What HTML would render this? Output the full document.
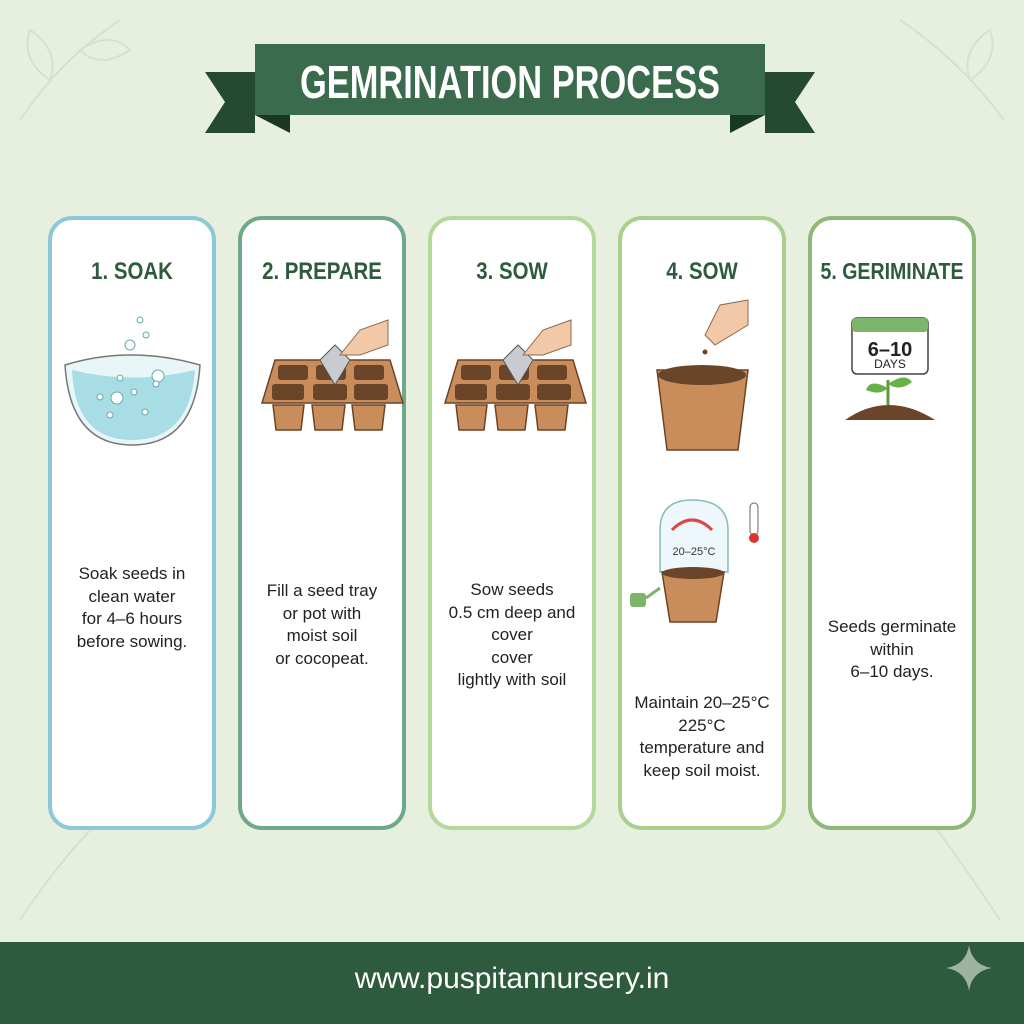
<!DOCTYPE html>
<html><head><meta charset="utf-8"><style>
body{margin:0;width:1024px;height:1024px;background:#e7f0df;position:relative;overflow:hidden;font-family:"Liberation Sans",sans-serif}
.card{position:absolute;top:216px;width:160px;height:606px;background:#fff;border:4px solid;border-radius:24px}
.t{position:absolute;top:38px;left:-20px;right:-20px;text-align:center;white-space:nowrap;font-family:"Liberation Sans Narrow","Liberation Sans",sans-serif;font-weight:bold;font-size:24px;color:#2e5a3e;transform:scaleX(0.85)}
.d{position:absolute;left:0;right:0;text-align:center;font-size:17px;line-height:22.5px;color:#222}
svg{position:absolute}
</style></head><body>
<svg style="left:0;top:0" width="1024" height="940">
<g fill="none" stroke="#d6e2cd" stroke-width="2">
<path d="M20 120 Q60 60 120 20"/><path d="M50 80 Q20 60 30 30 Q60 50 50 80Z"/><path d="M80 50 Q110 30 130 50 Q100 70 80 50Z"/>
<path d="M1004 120 Q960 60 900 20"/><path d="M970 80 Q1000 60 990 30 Q960 50 970 80Z"/>
<path d="M20 920 Q60 860 100 820"/><path d="M1000 920 Q960 860 930 820"/>
</g>
<polygon points="205,72 255,72 255,133 205,133 225,102" fill="#244a33"/>
<polygon points="255,115 290,115 290,133" fill="#1a3624"/>
<polygon points="815,72 765,72 765,133 815,133 795,102" fill="#244a33"/>
<polygon points="765,115 730,115 730,133" fill="#1a3624"/>
<rect x="255" y="44" width="510" height="71" fill="#3a6b4d"/>
<text x="510" y="98" text-anchor="middle" font-family="Liberation Sans Narrow,Liberation Sans,sans-serif" font-weight="bold" font-size="46" fill="#fff" textLength="420" lengthAdjust="spacingAndGlyphs">GEMRINATION PROCESS</text>
</svg>

<div class="card" style="left:48px;border-color:#8cc8d8"><div class="t">1. SOAK</div>
<div class="d" style="top:343px">Soak seeds in<br>clean water<br>for 4–6 hours<br>before sowing.</div></div>
<div class="card" style="left:238px;border-color:#6fa88a"><div class="t">2. PREPARE</div>
<div class="d" style="top:360px">Fill a seed tray<br>or pot with<br>moist soil<br>or cocopeat.</div></div>
<div class="card" style="left:428px;border-color:#b5d99c"><div class="t">3. SOW</div>
<div class="d" style="top:359px">Sow seeds<br>0.5 cm deep and<br>cover<br>cover<br>lightly with soil</div></div>
<div class="card" style="left:618px;border-color:#a8d08c"><div class="t">4. SOW</div>
<div class="d" style="top:472px">Maintain 20–25°C<br>225°C<br>temperature and<br>keep soil moist.</div></div>
<div class="card" style="left:808px;border-color:#8db87a"><div class="t" style="font-size:23px">5. GERIMINATE</div>
<div class="d" style="top:396px">Seeds germinate<br>within<br>6–10 days.</div></div>

<svg style="left:0;top:0" width="1024" height="940">
<path d="M65 365 Q130 345 200 365 Q195 445 132 445 Q70 445 65 365Z" fill="#e8f6f8" stroke="#777" stroke-width="1.5"/>
<path d="M72 370 Q132 385 195 370 Q190 440 132 440 Q75 440 72 370Z" fill="#a8dde6"/>
<g fill="#fff" stroke="#6aa" stroke-width="1"><circle cx="130" cy="345" r="5"/><circle cx="146" cy="335" r="3"/><circle cx="140" cy="320" r="3"/><circle cx="158" cy="376" r="6"/><circle cx="117" cy="398" r="6"/><circle cx="100" cy="397" r="3"/><circle cx="134" cy="392" r="3"/><circle cx="110" cy="415" r="3"/><circle cx="145" cy="412" r="3"/><circle cx="156" cy="384" r="3"/><circle cx="120" cy="378" r="3"/></g>
<g id="tr">
<path d="M262 403 L275 360 L390 360 L403 403 Z" fill="#c98d5c" stroke="#6b4426" stroke-width="1.5"/>
<g fill="#6a452a"><rect x="278" y="365" width="30" height="15" rx="3"/><rect x="316" y="365" width="30" height="15" rx="3"/><rect x="354" y="365" width="30" height="15" rx="3"/><rect x="272" y="384" width="32" height="16" rx="3"/><rect x="313" y="384" width="34" height="16" rx="3"/><rect x="354" y="384" width="34" height="16" rx="3"/></g>
<g fill="#c98d5c" stroke="#6b4426" stroke-width="1.5"><path d="M273 405 L304 405 L301 430 L276 430Z"/><path d="M312 405 L345 405 L342 430 L315 430Z"/><path d="M352 405 L385 405 L382 430 L355 430Z"/></g>
<path d="M320 360 L335 345 L350 360 L335 385 Z" fill="#c8ccd0" stroke="#555"/>
<path d="M340 355 L360 330 L388 320 L388 345 L360 355Z" fill="#f2c9a8" stroke="#8a6a50"/>
</g>
<use href="#tr" x="183"/>
<path d="M657 370 L748 370 L738 450 L667 450Z" fill="#c98d5c" stroke="#6b4426" stroke-width="1.5"/>
<ellipse cx="702" cy="375" rx="44" ry="10" fill="#6a452a"/>
<path d="M705 335 L720 305 L748 300 L748 325 L715 345Z" fill="#f2c9a8" stroke="#8a6a50"/>
<circle cx="705" cy="352" r="2.5" fill="#6a452a"/>
<path d="M660 572 L660 530 Q660 500 692 500 Q728 500 728 530 L728 572Z" fill="#eef7fb" stroke="#8bb" stroke-width="1.5"/>
<path d="M672 530 Q692 510 712 530" fill="none" stroke="#d44" stroke-width="3"/>
<text x="694" y="555" text-anchor="middle" font-size="11" fill="#333">20–25°C</text>
<path d="M662 572 L724 572 L716 622 L670 622Z" fill="#c98d5c" stroke="#6b4426" stroke-width="1.5"/>
<ellipse cx="693" cy="573" rx="31" ry="6" fill="#6a452a"/>
<rect x="750" y="503" width="8" height="32" rx="4" fill="#fff" stroke="#666"/><circle cx="754" cy="538" r="5" fill="#d33"/>
<rect x="630" y="593" width="16" height="14" rx="3" fill="#7cb56b"/><path d="M646 598 L660 588" stroke="#7cb56b" stroke-width="3"/>
<rect x="852" y="318" width="76" height="56" rx="5" fill="#fff" stroke="#444" stroke-width="1.5"/>
<rect x="852" y="318" width="76" height="14" rx="4" fill="#7cb56b"/>
<text x="890" y="356" text-anchor="middle" font-size="20" font-weight="bold" fill="#222">6–10</text>
<text x="890" y="368" text-anchor="middle" font-size="12" fill="#222">DAYS</text>
<path d="M845 420 Q888 390 935 420Z" fill="#6a452a"/>
<path d="M888 405 L888 380" stroke="#5a9a3a" stroke-width="3"/>
<path d="M888 388 Q870 378 866 390 Q880 396 888 388Z M888 384 Q905 372 912 382 Q900 392 888 384Z" fill="#6ab04a"/>
</svg>

<div style="position:absolute;left:0;top:942px;width:1024px;height:82px;background:#2e5a3e"></div>
<div style="position:absolute;left:0;top:962px;width:1024px;text-align:center;color:#fff;font-size:30px">www.puspitannursery.in</div>
<svg style="left:944px;top:943px" width="50" height="50"><path d="M25 2 Q28 22 48 25 Q28 28 25 48 Q22 28 2 25 Q22 22 25 2Z" fill="#9db3a2"/></svg>
</body></html>
